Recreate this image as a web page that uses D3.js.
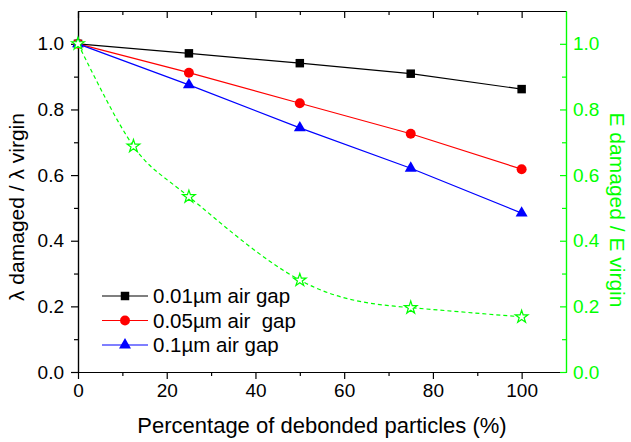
<!DOCTYPE html>
<html>
<head>
<meta charset="utf-8">
<script src="https://cdn.jsdelivr.net/npm/d3@7"></script>
<style>
	html, body { margin: 0; padding: 0; background: #fff; }
	svg { display: block; font-family: "Liberation Sans", Arial, sans-serif; }
</style>
</head>
<body>
<div class="chart"></div>
<script>
// ── Data ─────────────────────────────────────────────────────────────────

const debondedPercent = [0, 25, 50, 75, 100];
const gap001Values = [1.0, 0.971, 0.941, 0.909, 0.862];
const gap005Values = [1.0, 0.912, 0.819, 0.726, 0.618];
const gap01Values = [1.0, 0.875, 0.744, 0.621, 0.484];

const modulusPercent = [0, 12.5, 25, 50, 75, 100];
const modulusValues = [1.0, 0.688, 0.534, 0.280, 0.196, 0.168];

const xTickValues = [0, 20, 40, 60, 80, 100];
const xMinorTicks = [10, 30, 50, 70, 90];
const yTickValues = [0, 0.2, 0.4, 0.6, 0.8, 1.0];
const yMinorTicks = [0.1, 0.3, 0.5, 0.7, 0.9];

const legendLabels = ['0.01µm air gap', '0.05µm air  gap', '0.1µm air gap'];

// ── Layout ───────────────────────────────────────────────────────────────

const WIDTH = 631;
const HEIGHT = 442;
const PLOT = {left: 78, right: 566, top: 11, bottom: 372};
const GREEN = '#00ff00';
const FONT = '"Liberation Sans", Arial, sans-serif';

const series = [
	{values: gap001Values, color: '#000000', symbol: d3.symbolSquare, size: 72},
	{values: gap005Values, color: '#ff0000', symbol: d3.symbolCircle, size: 78},
	{values: gap01Values, color: '#0000ff', symbol: d3.symbolTriangle, size: 62}
];

const svg = d3.select('.chart')
.append('svg')
.attr('width', WIDTH)
.attr('height', HEIGHT);

const xScale = d3.scaleLinear().domain([0, 110]).range([PLOT.left, PLOT.right]);
const yScale = d3.scaleLinear().domain([0, 1.1]).range([PLOT.bottom, PLOT.top]);

// ── Axes ─────────────────────────────────────────────────────────────────

function styleAxis(group, color)
{
	group.select('.domain').attr('stroke', color).attr('stroke-width', 1.2);
	group.selectAll('.tick line').attr('stroke', color).attr('stroke-width', 1.2);
	group.selectAll('.tick text')
	.attr('fill', color)
	.style('font-size', '19px')
	.style('font-family', FONT);
}

function addAxis(axis, transform, color)
{
	svg.append('g')
	.attr('transform', transform)
	.call(axis.tickSizeOuter(0))
	.call((g) => styleAxis(g, color));
}

const oneDecimal = d3.format('.1f');

// bottom
addAxis(d3.axisBottom(xScale).tickValues(xTickValues).tickSize(7).tickPadding(5), `translate(0,${PLOT.bottom})`, '#000');
addAxis(d3.axisBottom(xScale).tickValues(xMinorTicks).tickSize(4).tickFormat(''), `translate(0,${PLOT.bottom})`, '#000');

// top, ticks inward, no labels
addAxis(d3.axisBottom(xScale).tickValues(xTickValues).tickSize(7).tickFormat(''), `translate(0,${PLOT.top})`, '#000');
addAxis(d3.axisBottom(xScale).tickValues(xMinorTicks).tickSize(4).tickFormat(''), `translate(0,${PLOT.top})`, '#000');

// left
addAxis(d3.axisLeft(yScale).tickValues(yTickValues).tickFormat(oneDecimal).tickSize(7).tickPadding(7), `translate(${PLOT.left},0)`, '#000');
addAxis(d3.axisLeft(yScale).tickValues(yMinorTicks).tickSize(4).tickFormat(''), `translate(${PLOT.left},0)`, '#000');

// right, green, ticks inward
addAxis(d3.axisRight(yScale).tickValues(yTickValues).tickFormat(oneDecimal).tickSize(-6).tickPadding(7), `translate(${PLOT.right},0)`, GREEN);
addAxis(d3.axisRight(yScale).tickValues(yMinorTicks).tickSize(-4).tickFormat(''), `translate(${PLOT.right},0)`, GREEN);

// ── Axis titles ──────────────────────────────────────────────────────────

svg.append('text')
.attr('x', 322)
.attr('y', 433)
.attr('text-anchor', 'middle')
.style('font-size', '22px')
.text('Percentage of debonded particles (%)');

svg.append('text')
.attr('transform', 'translate(24,207) rotate(-90)')
.attr('text-anchor', 'middle')
.style('font-size', '21px')
.text('λ damaged / λ virgin');

svg.append('text')
.attr('transform', 'translate(610,210) rotate(90)')
.attr('text-anchor', 'middle')
.attr('fill', GREEN)
.style('font-size', '21px')
.text('E damaged / E virgin');

// ── Series ───────────────────────────────────────────────────────────────

const straightLine = d3.line()
.x((datum, index) => xScale(debondedPercent[index]))
.y((datum) => yScale(datum));

series.forEach((item) =>
{
	svg.append('path')
	.attr('d', straightLine(item.values))
	.attr('fill', 'none')
	.attr('stroke', item.color)
	.attr('stroke-width', 1.2);

	svg.selectAll(null)
	.data(item.values)
	.join('path')
	.attr('transform', (datum, index) => `translate(${xScale(debondedPercent[index])},${yScale(datum)})`)
	.attr('d', d3.symbol(item.symbol, item.size))
	.attr('fill', item.color);
});

const modulusLine = d3.line()
.curve(d3.curveNatural)
.x((datum, index) => xScale(modulusPercent[index]))
.y((datum) => yScale(datum));

svg.append('path')
.attr('d', modulusLine(modulusValues))
.attr('fill', 'none')
.attr('stroke', GREEN)
.attr('stroke-width', 1.2)
.attr('stroke-dasharray', '4,3');

svg.selectAll(null)
.data(modulusValues)
.join('path')
.attr('transform', (datum, index) => `translate(${xScale(modulusPercent[index])},${yScale(datum)})`)
.attr('d', d3.symbol(d3.symbolStar, 50))
.attr('fill', '#fff')
.attr('stroke', GREEN)
.attr('stroke-width', 1.2);

// ── Legend ───────────────────────────────────────────────────────────────

const legendRows = svg.append('g')
.selectAll('g')
.data(series)
.join('g')
.attr('transform', (datum, index) => `translate(102,${296 + index * 24.5})`);

legendRows.append('line')
.attr('x1', 0)
.attr('x2', 46)
.attr('stroke', (datum) => datum.color)
.attr('stroke-width', 1.2);

legendRows.append('path')
.attr('transform', 'translate(23,0)')
.attr('d', (datum) => d3.symbol(datum.symbol, datum.size)())
.attr('fill', (datum) => datum.color);

legendRows.append('text')
.attr('x', 51)
.attr('y', 7)
.style('font-size', '20.5px')
.style('white-space', 'pre')
.text((datum, index) => legendLabels[index]);
</script>
</body>
</html>
